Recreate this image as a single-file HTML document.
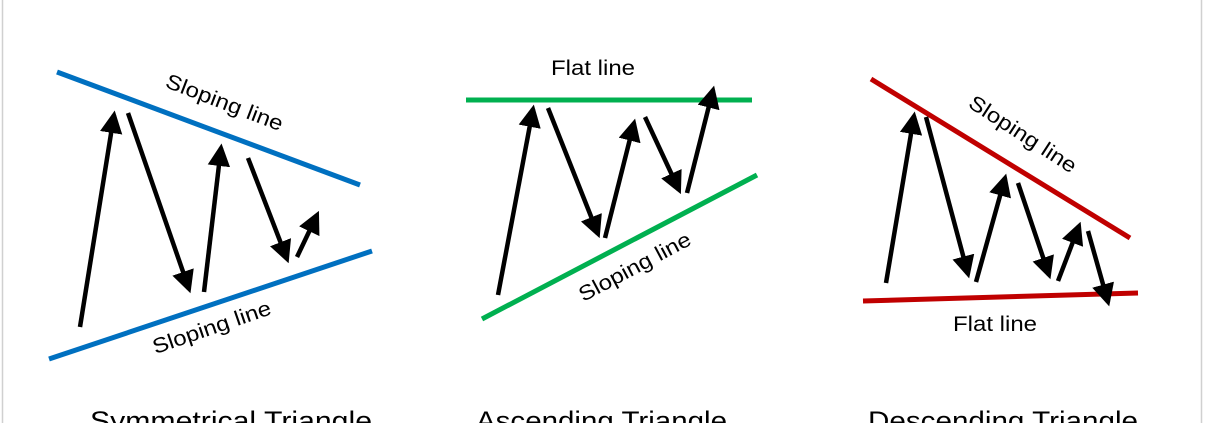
<!DOCTYPE html>
<html><head><style>
html,body{margin:0;padding:0;background:#fff;}
svg{display:block;}
text{font-family:"Liberation Sans",sans-serif;fill:#000;}
</style></head><body>
<svg width="1208" height="423" viewBox="0 0 1208 423" xmlns="http://www.w3.org/2000/svg">
<defs>
<marker id="a" markerWidth="5" markerHeight="5" refX="4" refY="2.5" orient="auto" markerUnits="strokeWidth">
<path d="M0,0 L5,2.5 L0,5 Z" fill="#000"/>
</marker>
</defs>
<rect width="1208" height="423" fill="#fff"/>
<line x1="2.5" y1="0" x2="2.5" y2="423" stroke="#d0d0d0" stroke-width="1.5"/>
<line x1="1201.5" y1="0" x2="1201.5" y2="423" stroke="#d0d0d0" stroke-width="1.5"/>

<g stroke="#0070c0" stroke-width="5">
<line x1="57" y1="72" x2="360" y2="185"/>
<line x1="49" y1="359" x2="372" y2="251"/>
</g>
<g stroke="#00b050" stroke-width="5">
<line x1="466" y1="100" x2="752" y2="100"/>
<line x1="482" y1="319" x2="757" y2="175"/>
</g>
<g stroke="#c00000" stroke-width="5">
<line x1="871" y1="79" x2="1130" y2="238"/>
<line x1="863" y1="301" x2="1138" y2="293"/>
</g>

<g stroke="#000" stroke-width="4.5" marker-end="url(#a)">
<line x1="80" y1="327" x2="114" y2="115"/>
<line x1="128" y1="113" x2="189" y2="289"/>
<line x1="204" y1="292" x2="221" y2="148"/>
<line x1="248" y1="158" x2="287" y2="259"/>
<line x1="297" y1="257" x2="317" y2="215"/>

<line x1="498" y1="295" x2="533" y2="109"/>
<line x1="548" y1="108" x2="598" y2="234"/>
<line x1="605" y1="238" x2="634" y2="123"/>
<line x1="645" y1="117" x2="679" y2="190"/>
<line x1="687" y1="193" x2="713" y2="90"/>

<line x1="886" y1="283" x2="914" y2="116"/>
<line x1="926" y1="117" x2="968" y2="274"/>
<line x1="976" y1="282" x2="1005" y2="178"/>
<line x1="1018" y1="183" x2="1049" y2="275"/>
<line x1="1058" y1="281" x2="1079" y2="226"/>
<line x1="1088" y1="231" x2="1108" y2="302"/>
</g>

<g font-size="21">
<text transform="translate(222,109) rotate(21)" text-anchor="middle" textLength="124" lengthAdjust="spacingAndGlyphs">Sloping line</text>
<text transform="translate(214,334) rotate(-19)" text-anchor="middle" textLength="124" lengthAdjust="spacingAndGlyphs">Sloping line</text>
<text x="593" y="75" text-anchor="middle" textLength="84" lengthAdjust="spacingAndGlyphs">Flat line</text>
<text transform="translate(638,273) rotate(-28)" text-anchor="middle" textLength="124" lengthAdjust="spacingAndGlyphs">Sloping line</text>
<text transform="translate(1019,140) rotate(33)" text-anchor="middle" textLength="124" lengthAdjust="spacingAndGlyphs">Sloping line</text>
<text x="995" y="331" text-anchor="middle" textLength="84" lengthAdjust="spacingAndGlyphs">Flat line</text>
</g>
<g font-size="27">
<text x="90" y="430" textLength="282" lengthAdjust="spacingAndGlyphs">Symmetrical Triangle</text>
<text x="476" y="430" textLength="251" lengthAdjust="spacingAndGlyphs">Ascending Triangle</text>
<text x="868" y="430" textLength="270" lengthAdjust="spacingAndGlyphs">Descending Triangle</text>
</g>
</svg>
</body></html>
